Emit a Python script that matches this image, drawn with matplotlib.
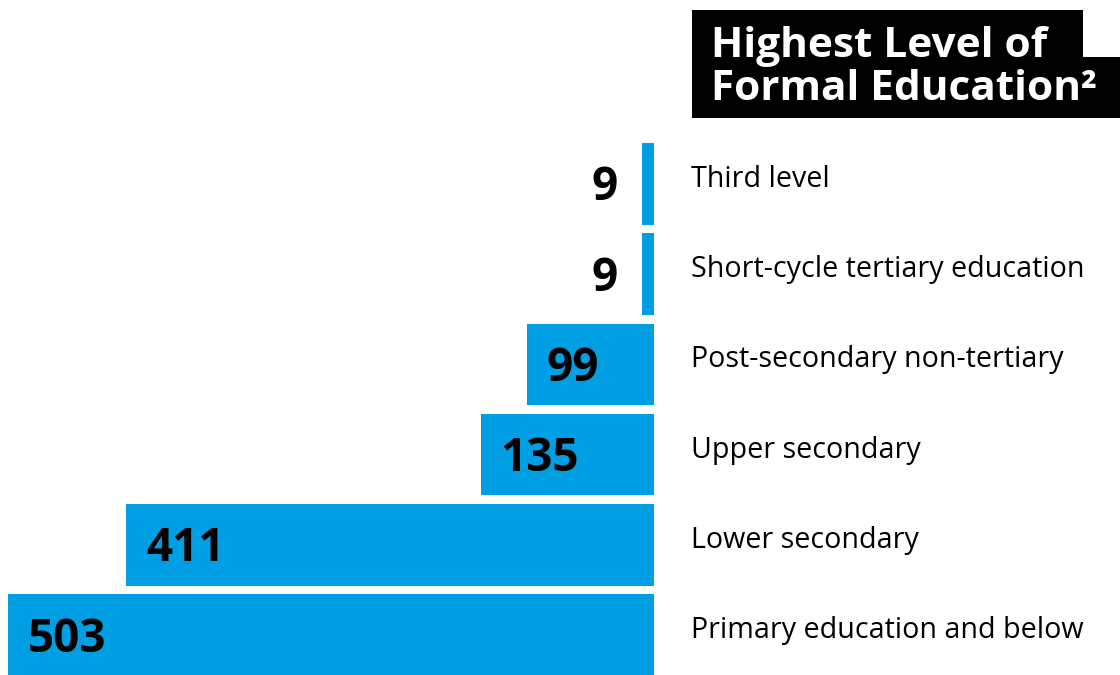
import matplotlib.pyplot as plt
from matplotlib.patches import Rectangle

categories = ['Third level', 'Short-cycle tertiary education', 'Post-secondary non-tertiary',
              'Upper secondary', 'Lower secondary', 'Primary education and below']
values = [9, 9, 99, 135, 411, 503]
title_lines = ['Highest Level of', 'Formal Education²']

W, H = 1120, 675
fig = plt.figure(figsize=(W / 100, H / 100), dpi=100)
ax = fig.add_axes([0, 0, 1, 1])

# pixel layout: zero line at x=654, 646 px for 503; rows 90.2 px apart
px = 646 / 503
x0 = 654
ax.set_xlim(x0 / px, -(W - x0) / px)
row = 90.2
y0 = 184
ax.set_ylim((H - y0) / row, -y0 / row)
ax.axis('off')

blue = '#009FE3'
font = 'Open Sans'
ys = list(range(len(values)))
ax.barh(ys, values, height=0.905, color=blue, left=0)

for y, v, c in zip(ys, values, categories):
    if v > 50:
        ax.text(v - 20 / px, y + 16.5 / row, str(v), ha='left', va='baseline', fontsize=33,
                fontweight='bold', family=font, color='black')
    else:
        ax.text(v + 25 / px, y + 16.5 / row, str(v), ha='right', va='baseline', fontsize=33,
                fontweight='bold', family=font, color='black')
    ax.text(-(691 - x0) / px, y + 3 / row, c, ha='left', va='baseline', fontsize=20.6,
            family=font, color='black')

# title boxes
fig.add_artist(Rectangle((692 / W, 1 - 57 / H), (1083 - 692) / W, 47 / H,
                         transform=fig.transFigure, color='black', lw=0))
fig.add_artist(Rectangle((692 / W, 1 - 118 / H), (W - 692) / W, 61 / H,
                         transform=fig.transFigure, color='black', lw=0))
fig.text(711 / W, 1 - 57 / H, title_lines[0], ha='left', va='baseline', fontsize=30.5,
         fontweight='bold', family=font, color='white')
fig.text(711 / W, 1 - 100 / H, title_lines[1], ha='left', va='baseline', fontsize=30.5,
         fontweight='bold', family=font, color='white')

fig.savefig('out.png', dpi=100, facecolor='white')
